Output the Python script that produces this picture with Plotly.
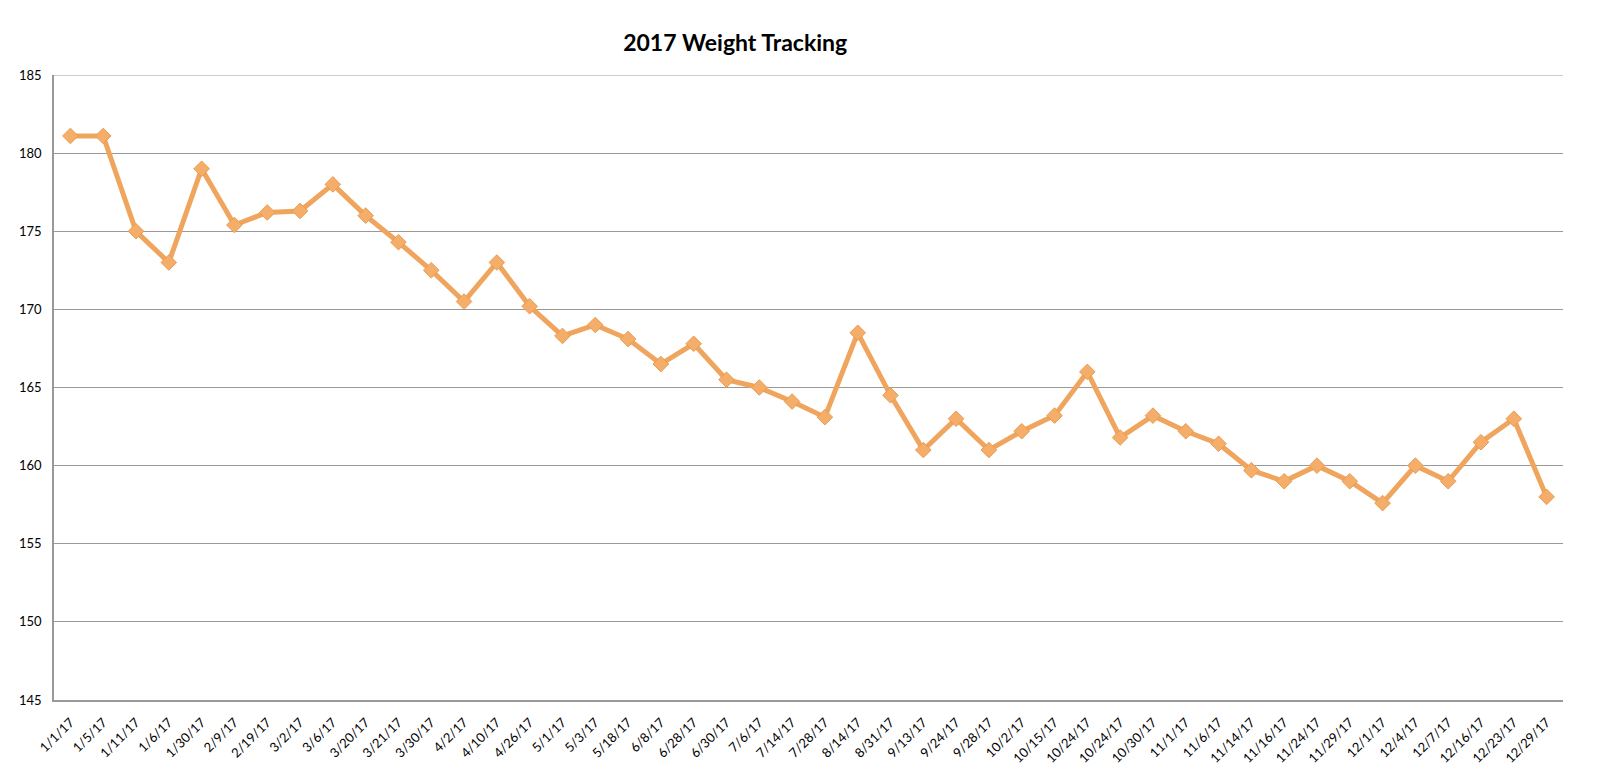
import plotly.graph_objects as go

# data
dates = ['1/1/17', '1/5/17', '1/11/17', '1/6/17', '1/30/17', '2/9/17', '2/19/17', '3/2/17',
         '3/6/17', '3/20/17', '3/21/17', '3/30/17', '4/2/17', '4/10/17', '4/26/17', '5/1/17',
         '5/3/17', '5/18/17', '6/8/17', '6/28/17', '6/30/17', '7/6/17', '7/14/17', '7/28/17',
         '8/14/17', '8/31/17', '9/13/17', '9/24/17', '9/28/17', '10/2/17', '10/15/17', '10/24/17',
         '10/24/17', '10/30/17', '11/1/17', '11/6/17', '11/14/17', '11/16/17', '11/24/17', '11/29/17',
         '12/1/17', '12/4/17', '12/7/17', '12/16/17', '12/23/17', '12/29/17']
weights = [181.1, 181.1, 175.0, 173.0, 179.0, 175.4, 176.2, 176.3,
           178.0, 176.0, 174.3, 172.5, 170.5, 173.0, 170.2, 168.3,
           169.0, 168.1, 166.5, 167.8, 165.5, 165.0, 164.1, 163.1,
           168.5, 164.5, 161.0, 163.0, 161.0, 162.2, 163.2, 166.0,
           161.8, 163.2, 162.2, 161.4, 159.7, 159.0, 160.0, 159.0,
           157.6, 160.0, 159.0, 161.5, 163.0, 158.0]
y_ticks = [145, 150, 155, 160, 165, 170, 175, 180, 185]

# dates repeat (10/24/17), so plot on index positions and label them
idx = list(range(len(dates)))

fig = go.Figure()
fig.add_trace(go.Scatter(
    x=idx, y=weights, mode='lines+markers',
    line=dict(color='#F0A55E', width=5),
    marker=dict(symbol='diamond', size=12, color='#F4AE6A',
                line=dict(color='#E99C52', width=1)),
    showlegend=False
))

fig.update_layout(
    width=1600, height=780,
    paper_bgcolor='white', plot_bgcolor='white',
    margin=dict(l=46, r=45, t=67, b=88),
    font=dict(family='Lato, Open Sans, sans-serif', color='black'),
    title=dict(text='<b>2017 Weight Tracking</b>', x=0.4545, xanchor='center',
               y=0.955, yanchor='middle', font=dict(size=23, color='black')),
)
fig.update_xaxes(
    tickmode='array', tickvals=idx, ticktext=dates, tickangle=-45,
    tickfont=dict(size=13), range=[-0.5, len(dates) - 0.5],
    showgrid=False, showline=True, linecolor='#999999', linewidth=1.5,
    ticks='', zeroline=False, ticklabelstandoff=8
)
fig.update_yaxes(
    range=[145, 185], tickvals=y_ticks, tickfont=dict(size=13),
    showgrid=True, gridcolor='#999999', gridwidth=1.2,
    showline=True, linecolor='#999999', linewidth=1.5, mirror=False,
    ticks='', zeroline=False, ticklabelstandoff=8
)
# top gridline at 185
fig.add_shape(type='line', xref='paper', yref='y', x0=0, x1=1, y0=185, y1=185,
              line=dict(color='#999999', width=1.2))

fig.write_html("out.html")
